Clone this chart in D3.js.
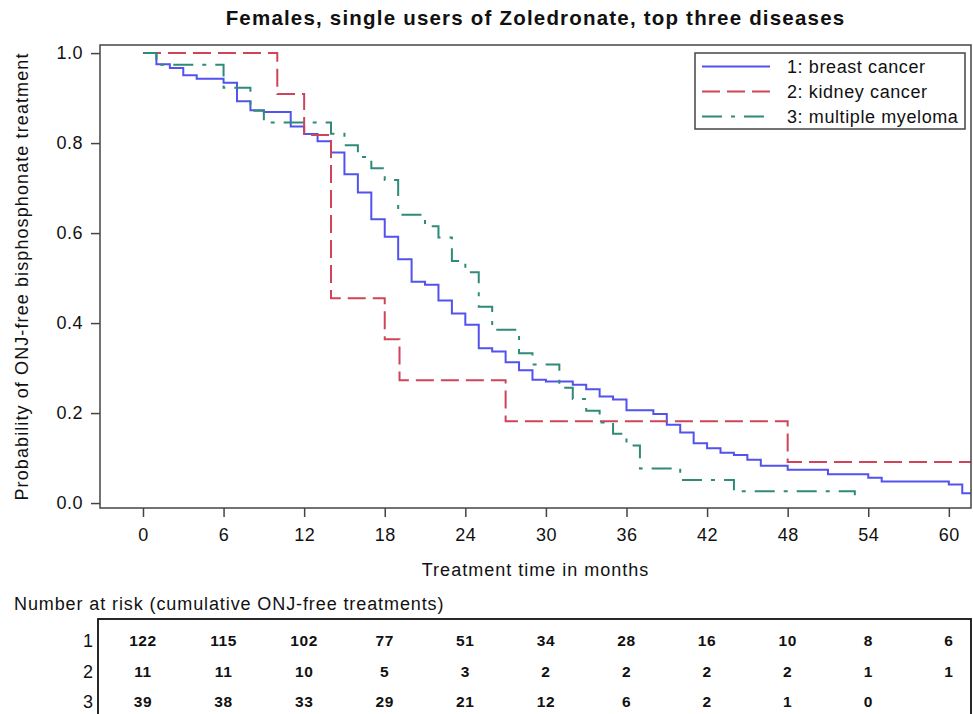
<!DOCTYPE html>
<html>
<head>
<meta charset="utf-8">
<script src="https://cdn.jsdelivr.net/npm/d3@7"></script>
<style>
  body { margin: 0; background: #fff; }
  svg text { font-family: "Liberation Sans", Arial, sans-serif; fill: #111; }
</style>
</head>
<body>
<div id="chart"></div>
<script>
// months at which ticks and number-at-risk values sit
const monthTicks = [0, 6, 12, 18, 24, 30, 36, 42, 48, 54, 60]
const probTicks = [0, 0.2, 0.4, 0.6, 0.8, 1.0]

// Kaplan-Meier steps: [month, survival]
const breastSteps = [
    [0, 1], [1, 0.975], [2, 0.967], [3, 0.951], [4, 0.943], [6, 0.934], [7, 0.893],
    [8, 0.873], [9, 0.869], [11, 0.837], [12, 0.82], [13, 0.804], [14, 0.779],
    [15, 0.731], [16, 0.69], [17, 0.631], [18, 0.592], [19, 0.542], [20, 0.492],
    [21, 0.485], [22, 0.45], [23, 0.421], [24, 0.396], [25, 0.344], [26, 0.337],
    [27, 0.313], [28, 0.295], [29, 0.274], [30, 0.27], [32, 0.263], [33, 0.253],
    [34, 0.237], [35, 0.23], [36, 0.206], [38, 0.198], [39, 0.174], [40, 0.157],
    [41, 0.133], [42, 0.122], [43, 0.112], [44, 0.107], [45, 0.096], [46, 0.083],
    [48, 0.074], [51, 0.064], [54, 0.056], [55, 0.048], [60, 0.041], [61, 0.022],
    [61.65, 0.022]
]
const kidneySteps = [
    [0, 1], [10, 0.909], [12, 0.818], [14, 0.455], [18, 0.364], [19.1, 0.273],
    [27, 0.182], [48, 0.091], [61.65, 0.091]
]
const myelomaSteps = [
    [0, 1], [1, 0.974], [6, 0.923], [8, 0.872], [9, 0.846], [14, 0.821], [15, 0.795],
    [16, 0.769], [17, 0.744], [18, 0.718], [19, 0.641], [21, 0.615], [22, 0.59],
    [23, 0.538], [24, 0.513], [25, 0.436], [26, 0.385], [28, 0.333], [29, 0.308],
    [31, 0.256], [32, 0.231], [33, 0.205], [34, 0.179], [35, 0.154], [36, 0.128],
    [37, 0.077], [40, 0.051], [44, 0.026], [53, 0]
]

const seriesNames = ['1: breast cancer', '2: kidney cancer', '3: multiple myeloma']
const seriesColors = ['#5252ee', '#cf4459', '#2f8a78']
const seriesDash = [null, '18,7', '20,9,4,9']

// number at risk, one row per series, one value per month tick
const riskBreast = [122, 115, 102, 77, 51, 34, 28, 16, 10, 8, 6]
const riskKidney = [11, 11, 10, 5, 3, 2, 2, 2, 2, 1, 1]
const riskMyeloma = [39, 38, 33, 29, 21, 12, 6, 2, 1, 0]

const width = 973
const height = 714
const plot = { left: 100, right: 971, top: 45, bottom: 508 }

const svg = d3.select('#chart')
    .append('svg')
    .attr('width', width)
    .attr('height', height)

const xScale = d3.scaleLinear()
    .domain([-3.2, 61.65])
    .range([plot.left, plot.right])

const yScale = d3.scaleLinear()
    .domain([-0.011, 1.018])
    .range([plot.bottom, plot.top])

svg.append('defs').append('clipPath')
    .attr('id', 'clip')
    .append('rect')
    .attr('x', plot.left)
    .attr('y', plot.top)
    .attr('width', plot.right - plot.left)
    .attr('height', plot.bottom - plot.top)

// title
svg.append('text')
    .attr('x', (plot.left + plot.right) / 2)
    .attr('y', 25)
    .attr('text-anchor', 'middle')
    .style('font-size', '20.5px')
    .style('font-weight', 'bold')
    .style('letter-spacing', '1.2px')
    .text('Females, single users of Zoledronate, top three diseases')

// axes
const xAxis = d3.axisBottom(xScale)
    .tickValues(monthTicks)
    .tickSize(9)
    .tickPadding(11)

const yAxis = d3.axisLeft(yScale)
    .tickValues(probTicks)
    .tickFormat(d3.format('.1f'))
    .tickSize(9)
    .tickPadding(8)

const xAxisG = svg.append('g')
    .attr('transform', `translate(0, ${plot.bottom})`)
    .call(xAxis)

const yAxisG = svg.append('g')
    .attr('transform', `translate(${plot.left}, 0)`)
    .call(yAxis)

;[xAxisG, yAxisG].forEach(g => {
    g.select('.domain').remove()
    g.selectAll('.tick line').attr('stroke', '#444').attr('stroke-width', 1.5)
    g.selectAll('.tick text')
        .style('font-size', '18px')
        .style('letter-spacing', '0.5px')
        .style('font-family', '"Liberation Sans", Arial, sans-serif')
        .attr('fill', '#111')
})

// axis labels
svg.append('text')
    .attr('x', (plot.left + plot.right) / 2)
    .attr('y', 576)
    .attr('text-anchor', 'middle')
    .style('font-size', '18px')
    .style('letter-spacing', '1px')
    .text('Treatment time in months')

svg.append('text')
    .attr('transform', `translate(28, ${(plot.top + plot.bottom) / 2}) rotate(-90)`)
    .attr('text-anchor', 'middle')
    .style('font-size', '18px')
    .style('letter-spacing', '1.1px')
    .text('Probability of ONJ-free bisphosphonate treatment')

// curves
const stepLine = d3.line()
    .x(d => xScale(d[0]))
    .y(d => yScale(d[1]))
    .curve(d3.curveStepAfter)

const curvesG = svg.append('g').attr('clip-path', 'url(#clip)')

;[breastSteps, kidneySteps, myelomaSteps].forEach((steps, i) => {
    curvesG.append('path')
        .datum(steps)
        .attr('d', stepLine)
        .attr('fill', 'none')
        .attr('stroke', seriesColors[i])
        .attr('stroke-width', 2)
        .attr('stroke-dasharray', seriesDash[i])
})

// plot frame
svg.append('rect')
    .attr('x', plot.left)
    .attr('y', plot.top)
    .attr('width', plot.right - plot.left)
    .attr('height', plot.bottom - plot.top)
    .attr('fill', 'none')
    .attr('stroke', '#444')
    .attr('stroke-width', 1.5)

// legend
const legend = svg.append('g').attr('transform', 'translate(695, 53)')

legend.append('rect')
    .attr('width', 270)
    .attr('height', 76)
    .attr('fill', '#fff')
    .attr('stroke', '#444')
    .attr('stroke-width', 1.5)

seriesNames.forEach((name, i) => {
    const y = 13.5 + i * 25
    legend.append('line')
        .attr('x1', 7)
        .attr('x2', 75)
        .attr('y1', y)
        .attr('y2', y)
        .attr('stroke', seriesColors[i])
        .attr('stroke-width', 2)
        .attr('stroke-dasharray', seriesDash[i])
    legend.append('text')
        .attr('x', 92)
        .attr('y', y)
        .attr('dy', '0.35em')
        .style('font-size', '18px')
        .style('letter-spacing', '0.6px')
        .text(name)
})

// number at risk table
svg.append('text')
    .attr('x', 14)
    .attr('y', 610)
    .style('font-size', '18px')
    .style('letter-spacing', '0.9px')
    .text('Number at risk (cumulative ONJ-free treatments)')

svg.append('rect')
    .attr('x', 98)
    .attr('y', 619)
    .attr('width', plot.right - 98)
    .attr('height', 120)
    .attr('fill', 'none')
    .attr('stroke', '#111')
    .attr('stroke-width', 1.8)

;[riskBreast, riskKidney, riskMyeloma].forEach((row, i) => {
    const y = 641 + i * 30.5
    svg.append('text')
        .attr('x', 93)
        .attr('y', y)
        .attr('dy', '0.35em')
        .attr('text-anchor', 'end')
        .style('font-size', '18px')
        .text(i + 1)

    svg.append('g')
        .selectAll('text')
        .data(row)
        .join('text')
        .attr('x', (d, j) => xScale(monthTicks[j]))
        .attr('y', y)
        .attr('dy', '0.35em')
        .attr('text-anchor', 'middle')
        .style('font-size', '15.5px')
        .style('font-weight', 'bold')
        .style('letter-spacing', '0.6px')
        .text(d => d)
})
</script>
</body>
</html>
